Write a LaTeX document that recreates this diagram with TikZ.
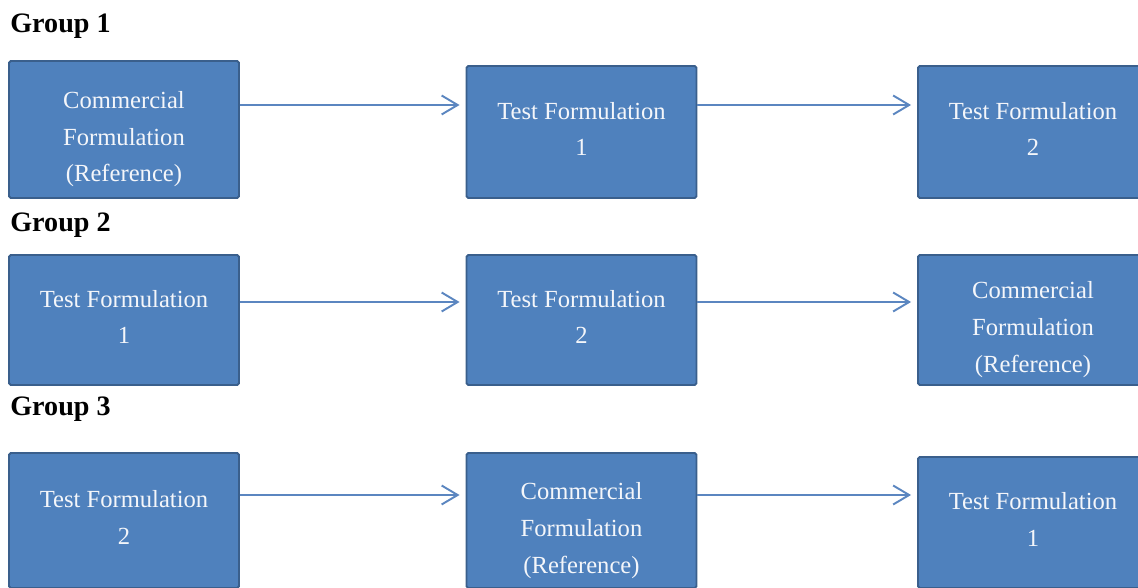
\documentclass[tikz,border=0pt]{standalone}
\usepackage{fontspec}
\setmainfont{Liberation Serif}
\usetikzlibrary{arrows.meta, positioning, calc}
\definecolor{box-fill}{HTML}{4F81BD}
\definecolor{box-border}{HTML}{3A5F8C}
\definecolor{flow}{HTML}{5B86C0}
\definecolor{box-text}{HTML}{F4F6FA}
\tikzset{
  formbox/.style={
    draw=box-border, fill=box-fill, line width=1.1pt, rounded corners=1pt,
    minimum width=4.6cm, minimum height=2.64cm, align=center,
    text=box-text, font=\fontsize{14}{21}\selectfont, inner sep=0pt,
    text depth=0.12cm
  },
  refbox/.style={formbox, text height=2.2cm, text depth=0.1cm},
  flow-edge/.style={-{Straight Barb[length=3.2mm, width=3.8mm, line width=1.1pt]}, line width=1.1pt, draw=flow, shorten >=1.2mm},
  grouplbl/.style={font=\fontsize{16}{19}\selectfont\bfseries, anchor=base west, inner sep=0pt}
}

\begin{document}
\begin{tikzpicture}
  \useasboundingbox (0,0) rectangle (22.76,-11.76);

  % ---- Group 1 -------------------------------------------------------------
  \node[grouplbl] (g1) at (0.2,-0.66) {Group 1};
  \node[refbox, minimum height=2.74cm] (g1a) at (2.48,-2.59) {Commercial\\Formulation\\(Reference)};
  \node[formbox] (g1b) at (11.63,-2.64) {Test Formulation\\1};
  \node[formbox] (g1c) at (20.66,-2.64) {Test Formulation\\2};
  \coordinate (r1) at (0,-2.10);

  % ---- Group 2 -------------------------------------------------------------
  \node[grouplbl] (g2) at (0.2,-4.64) {Group 2};
  \node[formbox, minimum height=2.6cm] (g2a) at (2.48,-6.40) {Test Formulation\\1};
  \node[formbox, minimum height=2.6cm] (g2b) at (11.63,-6.40) {Test Formulation\\2};
  \node[refbox, minimum height=2.6cm] (g2c) at (20.66,-6.40) {Commercial\\Formulation\\(Reference)};
  \coordinate (r2) at (0,-6.04);

  % ---- Group 3 -------------------------------------------------------------
  \node[grouplbl] (g3) at (0.2,-8.30) {Group 3};
  \node[formbox, minimum height=2.7cm] (g3a) at (2.48,-10.41) {Test Formulation\\2};
  \node[refbox, minimum height=2.7cm] (g3b) at (11.63,-10.41) {Commercial\\Formulation\\(Reference)};
  \node[formbox, minimum height=2.62cm] (g3c) at (20.66,-10.45) {Test Formulation\\1};
  \coordinate (r3) at (0,-9.90);

  % ---- order arrows --------------------------------------------------------
  \draw[flow-edge] (g1a.east |- r1) -- (g1b.west |- r1);
  \draw[flow-edge] (g1b.east |- r1) -- (g1c.west |- r1);
  \draw[flow-edge] (g2a.east |- r2) -- (g2b.west |- r2);
  \draw[flow-edge] (g2b.east |- r2) -- (g2c.west |- r2);
  \draw[flow-edge] (g3a.east |- r3) -- (g3b.west |- r3);
  \draw[flow-edge] (g3b.east |- r3) -- (g3c.west |- r3);

\end{tikzpicture}
\end{document}
